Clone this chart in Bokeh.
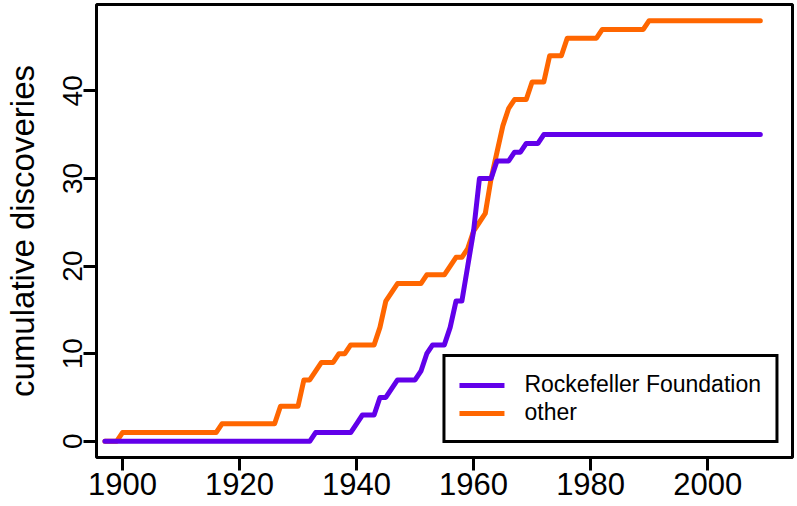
from bokeh.plotting import figure
from bokeh.models import FixedTicker, Range1d, Legend, LegendItem
from bokeh.embed import file_html
from bokeh.resources import INLINE

# Vertices of the cumulative lines (year, cumulative count)
rf_years = [1897, 1932, 1933, 1939, 1940, 1941, 1943, 1944, 1945, 1946, 1947, 1950,
            1951, 1952, 1953, 1955, 1956, 1957, 1958, 1959, 1960, 1961, 1963, 1964,
            1966, 1967, 1968, 1969, 1971, 1972, 2009]
rf_values = [0, 0, 1, 1, 2, 3, 3, 5, 5, 6, 7, 7,
             8, 10, 11, 11, 13, 16, 16, 20, 24, 30, 30, 32,
             32, 33, 33, 34, 34, 35, 35]

other_years = [1897, 1899, 1900, 1916, 1917, 1926, 1927, 1930, 1931, 1932, 1933, 1934,
               1936, 1937, 1938, 1939, 1943, 1944, 1945, 1946, 1947, 1951, 1952, 1955,
               1956, 1957, 1958, 1959, 1960, 1961, 1962, 1963, 1964, 1965, 1966, 1967,
               1969, 1970, 1972, 1973, 1975, 1976, 1981, 1982, 1989, 1990, 2009]
other_values = [0, 0, 1, 1, 2, 2, 4, 4, 7, 7, 8, 9,
                9, 10, 10, 11, 11, 13, 16, 17, 18, 18, 19, 19,
                20, 21, 21, 22, 24, 25, 26, 30, 33, 36, 38, 39,
                39, 41, 41, 44, 44, 46, 46, 47, 47, 48, 48]

x_ticks = [1900, 1920, 1940, 1960, 1980, 2000]
y_ticks = [0, 10, 20, 30, 40]
series_labels = ["Rockefeller Foundation", "other"]
y_label = "cumulative discoveries"

PURPLE = "#6200EA"
ORANGE = "#FF6600"
FONT = "Liberation Sans"

p = figure(width=797, height=506, output_backend="svg", toolbar_location=None,
           title=None,
           x_range=Range1d(1895.56, 2014.5), y_range=Range1d(-1.85, 49.85),
           min_border_left=95, min_border_right=5, min_border_top=4,
           min_border_bottom=49)

p.background_fill_color = "white"
p.border_fill_color = "white"
p.outline_line_color = "black"
p.outline_line_width = 3
p.outline_line_alpha = 1
p.grid.visible = False

p.xaxis.ticker = FixedTicker(ticks=x_ticks)
p.yaxis.ticker = FixedTicker(ticks=y_ticks)

for ax in (p.xaxis[0], p.yaxis[0]):
    ax.axis_line_color = None
    ax.major_tick_line_width = 3
    ax.major_tick_line_color = "black"
    ax.major_tick_out = 13
    ax.major_tick_in = 0
    ax.minor_tick_line_color = None
    ax.major_label_text_font = FONT
    ax.major_label_text_color = "black"

p.xaxis.major_label_text_font_size = "31px"
p.xaxis.major_label_standoff = 2
p.yaxis.major_label_text_font_size = "28px"
p.yaxis.major_label_orientation = "vertical"
p.yaxis.major_label_standoff = 1
p.yaxis.axis_label = y_label
p.yaxis.axis_label_text_font = FONT
p.yaxis.axis_label_text_font_size = "33px"
p.yaxis.axis_label_text_font_style = "normal"
p.yaxis.axis_label_text_color = "black"
p.yaxis.axis_label_standoff = 20

r_other = p.line(other_years, other_values, line_width=5, line_color=ORANGE,
                 line_cap="round", line_join="round")
r_rf = p.line(rf_years, rf_values, line_width=5, line_color=PURPLE,
              line_cap="round", line_join="round")

legend = Legend(items=[LegendItem(label=series_labels[0], renderers=[r_rf]),
                       LegendItem(label=series_labels[1], renderers=[r_other])],
                location="bottom_right")
legend.border_line_color = "black"
legend.border_line_width = 3
legend.border_line_alpha = 1
legend.background_fill_color = "white"
legend.background_fill_alpha = 1
legend.label_text_font = FONT
legend.label_text_font_size = "23px"
legend.label_text_color = "black"
legend.glyph_width = 45
legend.glyph_height = 24
legend.label_height = 24
legend.label_standoff = 20
legend.padding = 14
legend.spacing = 1
legend.margin = 14
p.add_layout(legend)

open("out.html", "w").write(file_html(p, INLINE))
